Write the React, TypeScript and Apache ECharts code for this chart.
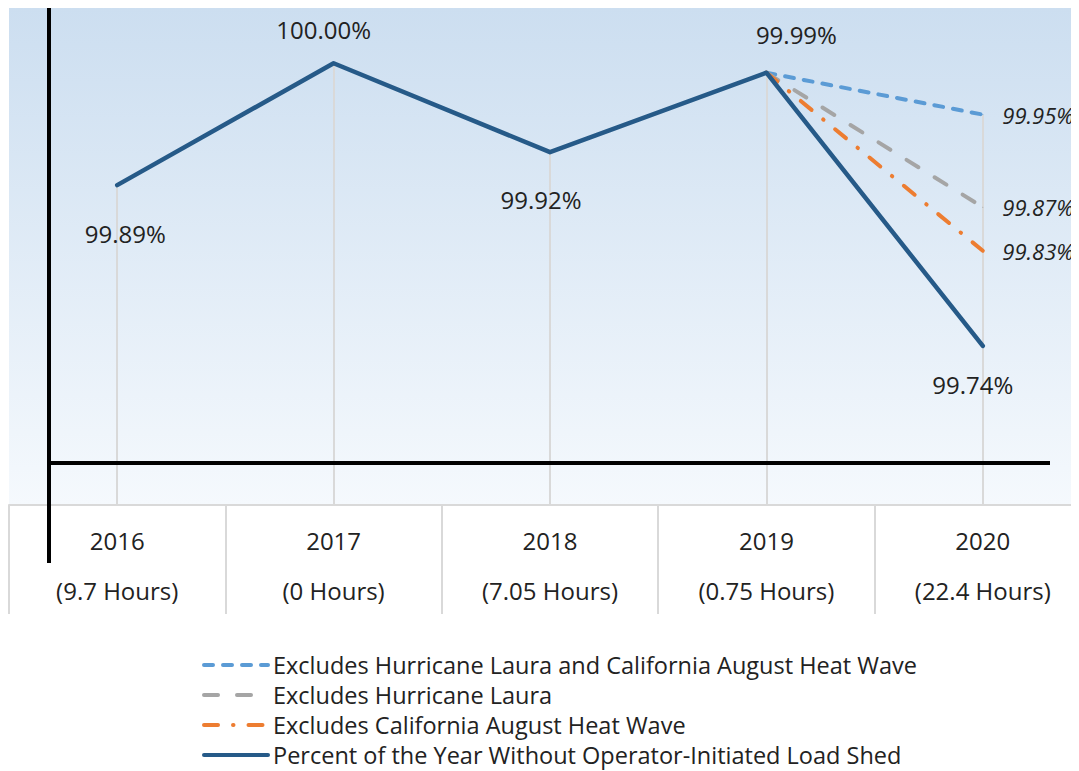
import React, { useEffect, useRef } from "react";
import * as echarts from "echarts";

const years = ["2016", "2017", "2018", "2019", "2020"];
const hoursLabels = ["(9.7 Hours)", "(0 Hours)", "(7.05 Hours)", "(0.75 Hours)", "(22.4 Hours)"];
const mainValues = [99.8896, 100.0, 99.9195, 99.9914, 99.744];
const exclBoth = [null, null, null, 99.9914, 99.9535];
const exclLaura = [null, null, null, 99.9914, 99.8696];
const exclHeat = [null, null, null, 99.9914, 99.8302];
const mainLabelOffsets = [[8, 48], [-10, -34], [-9, 47], [30, -38], [-10, 39]];

const seriesNames = [
  "Excludes Hurricane Laura and California August Heat Wave",
  "Excludes Hurricane Laura",
  "Excludes California August Heat Wave",
  "Percent of the Year Without Operator-Initiated Load Shed",
];

const FONT = "Open Sans";
const TEXT = "#222222";

export default function App() {
  const ref = useRef<HTMLDivElement>(null);
  useEffect(() => {
    document.body.style.overflow = "hidden";
    const chart = echarts.init(ref.current!, null, { renderer: "svg" });

    const dropTops = years.map((_, i) => {
      const vals = [mainValues[i], exclBoth[i], exclLaura[i], exclHeat[i]].filter(
        (v) => v !== null
      ) as number[];
      return Math.max(...vals);
    });

    const dashedSeries = (name: string, data: (number | null)[], color: string, dash: number[], extra: any = {}) => ({
      name,
      type: "line",
      data: data.map((v, i) =>
        i === 4
          ? { value: v, label: { show: true } }
          : v
      ),
      symbol: "circle",
      symbolSize: 1,
      connectNulls: false,
      itemStyle: { color },
      lineStyle: { color, width: 4, type: dash, cap: "round", join: "round" },
      label: {
        show: false,
        position: "right",
        distance: 19,
        fontFamily: FONT,
        fontSize: 22,
        fontStyle: "italic",
        color: TEXT,
        formatter: (p: any) => Number(p.value).toFixed(2) + "%",
      },
      emphasis: { disabled: true },
      z: 3,
      ...extra,
    });

    chart.setOption({
      animation: false,
      textStyle: { fontFamily: FONT },
      grid: {
        left: 1,
        top: 0,
        width: 1082,
        height: 497,
        outerBoundsMode: "none",
        containLabel: false,
        show: true,
        borderWidth: 0,
        backgroundColor: new echarts.graphic.LinearGradient(0, 0, 0, 1, [
          { offset: 0, color: "#CCDEF0" },
          { offset: 1, color: "#F5F9FD" },
        ]),
      },
      xAxis: {
        type: "category",
        data: years,
        boundaryGap: true,
        axisLine: { show: true, lineStyle: { color: "#D9D9D9", width: 2 } },
        axisTick: { show: true, length: 109, lineStyle: { color: "#D9D9D9", width: 2 } },
        splitLine: { show: false },
        axisLabel: {
          interval: 0,
          margin: 10,
          fontFamily: FONT,
          fontSize: 24,
          lineHeight: 50,
          color: TEXT,
          formatter: (v: string, i: number) => `${v}\n${hoursLabels[i]}`,
        },
      },
      yAxis: {
        type: "value",
        min: 99.6,
        max: 100.05,
        show: false,
        splitLine: { show: false },
      },
      legend: {
        orient: "vertical",
        left: 194,
        top: 644,
        height: 130,
        padding: 0,
        itemWidth: 64,
        itemHeight: 26,
        itemGap: 4,
        selectedMode: false,
        data: seriesNames,
        itemStyle: { opacity: 0 },
        lineStyle: { width: 4 },
        textStyle: { fontFamily: FONT, fontSize: 23.5, lineHeight: 26, color: TEXT },
      },
      graphic: [
        {
          type: "line",
          z: 100,
          shape: { x1: 41, y1: 0, x2: 41, y2: 555 },
          style: { stroke: "#000000", lineWidth: 4 },
        },
        {
          type: "line",
          z: 100,
          shape: { x1: 41, y1: 455, x2: 1042, y2: 455 },
          style: { stroke: "#000000", lineWidth: 4 },
        },
      ],
      series: [
        {
          ...dashedSeries(seriesNames[0], exclBoth, "#5B9BD5", [9, 10]),
          markLine: {
            silent: true,
            symbol: ["none", "none"],
            label: { show: false },
            lineStyle: { color: "#D9D9D9", width: 2, type: "solid" },
            emphasis: { disabled: true },
            z: 1,
            data: years.map((y, i) => [
              { coord: [y, dropTops[i]] },
              { coord: [y, 99.6] },
            ]),
          },
        },
        dashedSeries(seriesNames[1], exclLaura, "#A5A5A5", [14, 19]),
        dashedSeries(seriesNames[2], exclHeat, "#ED7D31", [14, 15, 0.5, 15]),
        {
          name: seriesNames[3],
          type: "line",
          data: mainValues.map((v, i) => ({
            value: v,
            label: { offset: mainLabelOffsets[i] },
          })),
          symbol: "circle",
          symbolSize: 1,
          itemStyle: { color: "#265A88" },
          lineStyle: { color: "#265A88", width: 4.5, cap: "round", join: "round" },
          label: {
            show: true,
            position: "inside",
            fontFamily: FONT,
            fontSize: 24,
            color: TEXT,
            formatter: (p: any) => Number(p.value).toFixed(2) + "%",
          },
          emphasis: { disabled: true },
          z: 4,
        },
      ],
    });
    return () => chart.dispose();
  }, []);
  return <div ref={ref} style={{ width: 1071, height: 763, overflow: "hidden" }} />;
}
